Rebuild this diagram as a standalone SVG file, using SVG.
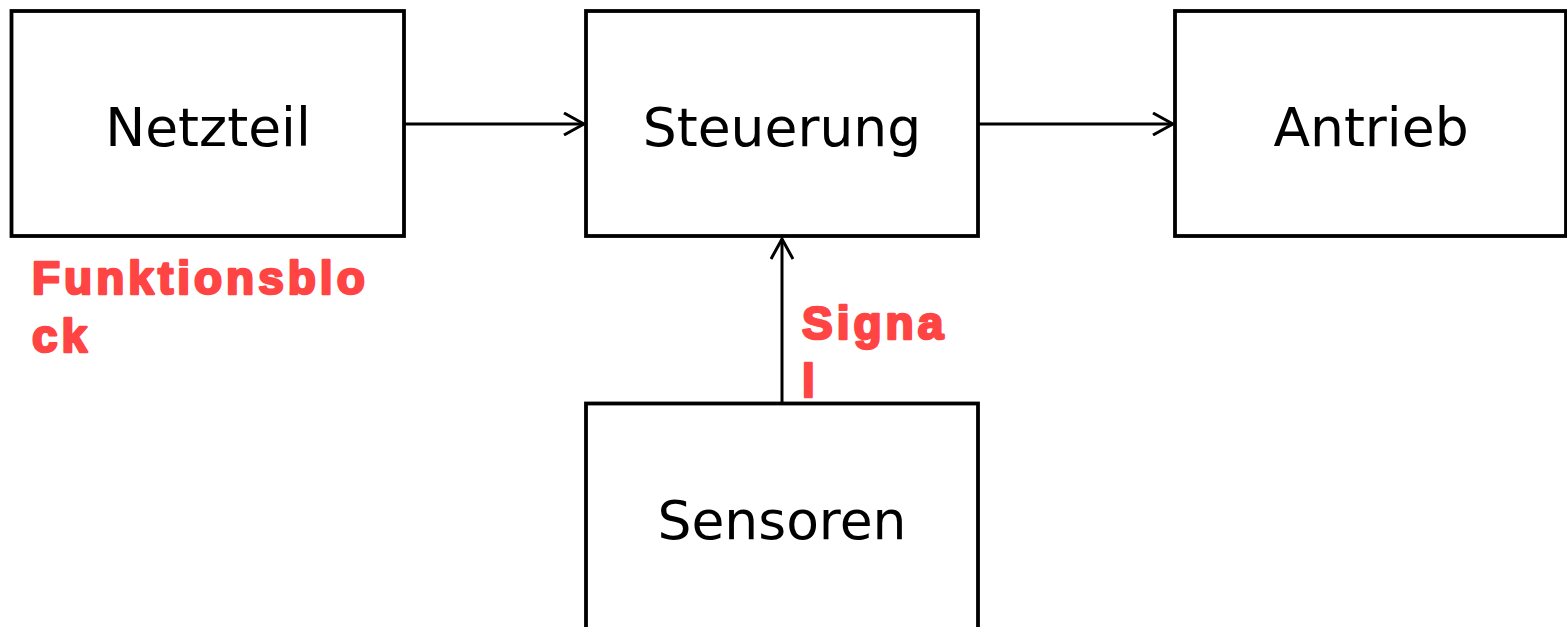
<svg xmlns="http://www.w3.org/2000/svg" width="1567" height="627" viewBox="0 0 1567 627">
<style>
.box{fill:#ffffff;stroke:#000000;stroke-width:3.8}
.lbl{font-family:"DejaVu Sans",sans-serif;font-size:53.5px;fill:#000000;text-anchor:middle}
.note{font-family:"Liberation Sans",Arial,sans-serif;font-weight:bold;font-size:46px;fill:#FF4444;stroke:#FF4444;stroke-width:2.6;stroke-linejoin:round;letter-spacing:4px}
.edge{fill:none;stroke:#000000;stroke-width:3}
</style>
<defs>
<marker id="arr" viewBox="0 0 24 24" refX="21" refY="12" markerWidth="24" markerHeight="24" markerUnits="userSpaceOnUse" orient="auto">
<path d="M1,1 L21,12 L1,23" fill="none" stroke="#000000" stroke-width="3"/>
</marker>
</defs>
<rect width="1567" height="627" fill="#ffffff"/>
<g id="connectors">
<line class="edge" x1="404" y1="124" x2="584" y2="124" marker-end="url(#arr)"/>
<line class="edge" x1="978" y1="124" x2="1173" y2="124" marker-end="url(#arr)"/>
<line class="edge" x1="782" y1="403" x2="782" y2="239" marker-end="url(#arr)"/>
</g>
<g id="netzteil">
<rect class="box" x="11.5" y="11" width="392.5" height="225"/>
<text class="lbl" x="208" y="146">Netzteil</text>
</g>
<g id="steuerung">
<rect class="box" x="586" y="11" width="392" height="225"/>
<text class="lbl" x="782" y="146">Steuerung</text>
</g>
<g id="antrieb">
<rect class="box" x="1175" y="11" width="391" height="225"/>
<text class="lbl" x="1371" y="146">Antrieb</text>
</g>
<g id="sensoren">
<rect class="box" x="586" y="403.5" width="392" height="240"/>
<text class="lbl" x="782" y="539">Sensoren</text>
</g>
<g id="notes">
<text class="note" x="32" y="294">Funktionsblo</text>
<text class="note" x="32" y="351.5">ck</text>
<text class="note" x="802" y="338.5">Signa</text>
<text class="note" x="802" y="397">l</text>
</g>
</svg>
